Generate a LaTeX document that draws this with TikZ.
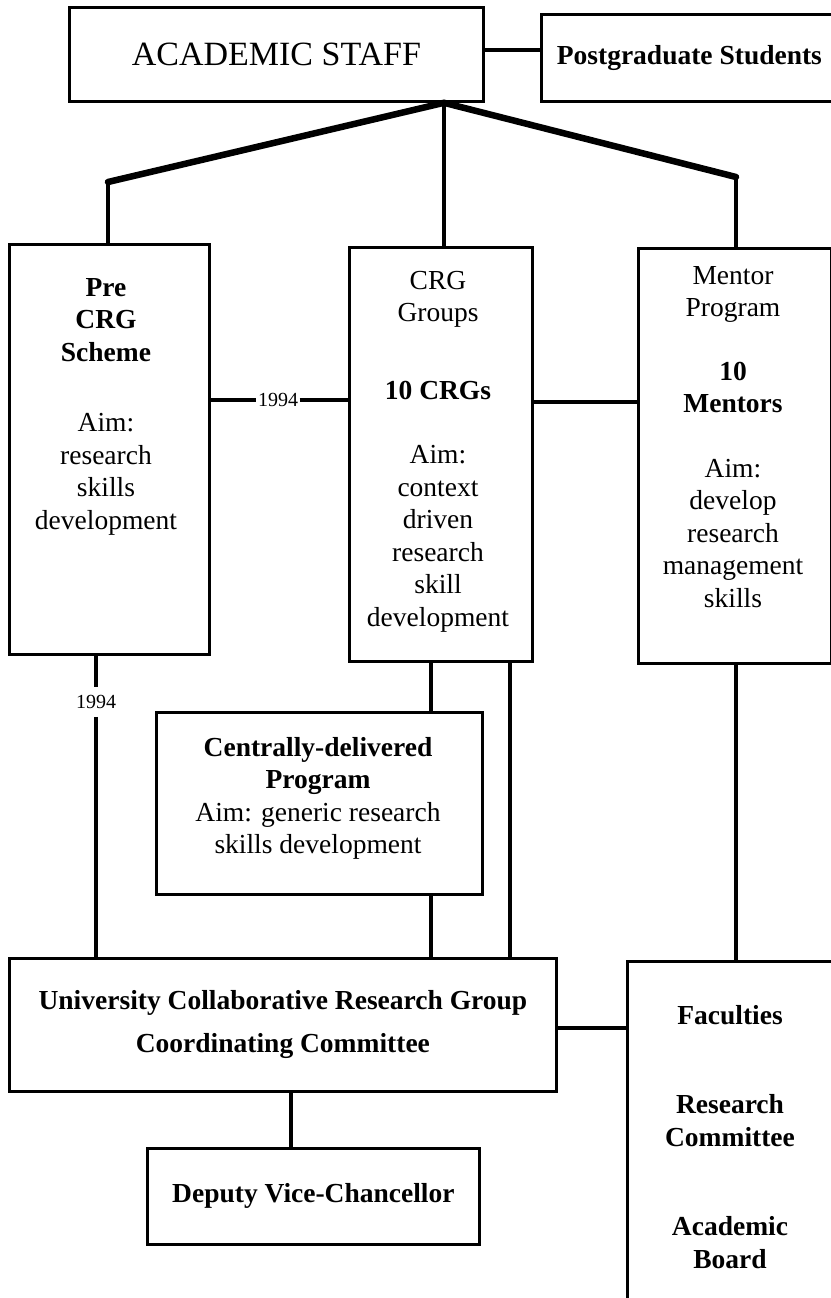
\documentclass[tikz,border=0pt]{standalone}
\usepackage{fontspec}
\setmainfont{Liberation Serif}
\begin{document}
\begin{tikzpicture}[x=1pt,y=-1pt,
  box/.style={draw, line width=2.8pt, anchor=north west, inner sep=0pt, align=center, font=\fontsize{27.5}{32.5}\selectfont\bfseries},
  txt/.style={align=center, inner sep=0pt, anchor=north, font=\fontsize{27.5}{32.5}\selectfont},
  yearlbl/.style={inner xsep=1.5pt, inner ysep=8pt, font=\fontsize{20}{24}\selectfont},
  conn/.style={line width=4.5pt},
  diag/.style={line width=6.5pt, line cap=round}]
\useasboundingbox[fill=white] (0,0) rectangle (830,1298);

% top row
\node[box, minimum width=414pt, minimum height=94pt, font=\fontsize{34}{40}\selectfont] (staff) at (68,6) {ACADEMIC STAFF};
\node[box, minimum width=296pt, minimum height=87pt, xshift=-4pt] (pg) at (544,13) {Postgraduate Students};
\coordinate (spy) at (0,50);
\draw[conn] (staff.east |- spy) -- (pg.west |- spy);

% second row boxes
\node[box, minimum width=200pt, minimum height=410pt] (pre) at (8,243) {};
\node[box, minimum width=183pt, minimum height=414pt] (crg) at (348,246) {};
\node[box, minimum width=193pt, minimum height=415pt] (mentor) at (637,247) {};

\node[txt] (pretxt) at (106,278) {\textbf{Pre}\\\textbf{CRG}\\\textbf{Scheme}\\[38pt]Aim:\\research\\skills\\development};
\node[txt] (crgtxt) at (438,271) {CRG\\Groups\\[45pt]\textbf{10 CRGs}\\[32pt]Aim:\\context\\driven\\research\\skill\\development};
\node[txt] (mentortxt) at (733,266) {Mentor\\Program\\[31pt]\textbf{10}\\\textbf{Mentors}\\[32pt]Aim:\\develop\\research\\management\\skills};

% tree from academic staff
\coordinate (apx) at (444,0);
\coordinate (apex) at (staff.south -| apx);
\coordinate (lc) at (108,182);
\coordinate (rc) at (736,177);
\draw[diag] (lc) -- (apex) -- (rc);
\draw[conn] (lc) -- (lc |- pre.north);
\draw[conn] (rc) -- (rc |- mentor.north);
\draw[conn] (apex) -- (apex |- crg.north);

% horizontal links
\node[yearlbl] (y94a) at (278,400) {1994};
\draw[conn] (pre.east |- y94a.west) -- (y94a.west);
\draw[conn] (y94a.east) -- (crg.west |- y94a.east);
\coordinate (cmy) at (0,402);
\draw[conn] (crg.east |- cmy) -- (mentor.west |- cmy);

% central program
\node[box, minimum width=326pt, minimum height=182pt] (central) at (155,711) {};
\node[txt] (centraltxt) at (318,737) {\textbf{Centrally-delivered}\\\textbf{Program}\\Aim: generic research\\skills development};

% university committee
\node[box, minimum width=547pt, minimum height=133pt] (uni) at (8,957) {University Collaborative Research Group\\[10.5pt]Coordinating Committee};

% faculties
\node[box, minimum width=212pt, minimum height=380pt] (fac) at (626,960) {};
\node[txt, font=\fontsize{27.5}{32.5}\selectfont\bfseries] (factxt) at (730,1005) {Faculties\\[57pt]Research\\Committee\\[57pt]Academic\\Board};

% deputy vice-chancellor
\node[box, minimum width=332pt, minimum height=96pt] (dvc) at (146,1147) {Deputy Vice-Chancellor};

% vertical links
\coordinate (xa) at (96,0);
\node[yearlbl] (y94b) at (96,702) {1994};
\draw[conn] (pre.south -| xa) -- (y94b.north);
\draw[conn] (y94b.south) -- (uni.north -| xa);
\coordinate (xb) at (431,0);
\draw[conn] (crg.south -| xb) -- (central.north -| xb);
\draw[conn] (central.south -| xb) -- (uni.north -| xb);
\coordinate (xc) at (510,0);
\draw[conn] (crg.south -| xc) -- (uni.north -| xc);
\coordinate (xd) at (736,0);
\draw[conn] (mentor.south -| xd) -- (fac.north -| xd);
\coordinate (ufy) at (0,1028);
\draw[conn] (uni.east |- ufy) -- (fac.west |- ufy);
\coordinate (xe) at (291,0);
\draw[conn] (uni.south -| xe) -- (dvc.north -| xe);
\end{tikzpicture}
\end{document}
